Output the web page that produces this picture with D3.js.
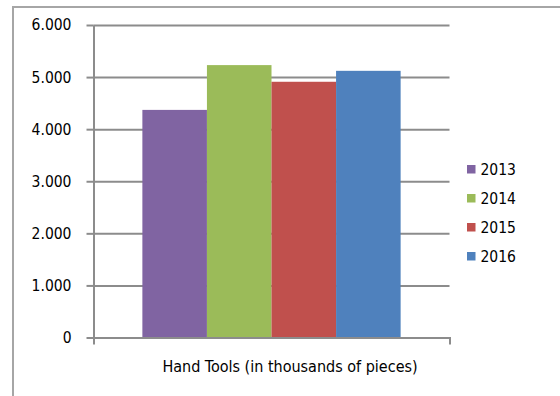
<!DOCTYPE html>
<html>
<head>
<meta charset="utf-8">
<script src="https://cdn.jsdelivr.net/npm/d3@7/dist/d3.min.js"></script>
<style>
  html, body { margin: 0; padding: 0; background: #fff; }
  svg { display: block; }
  text { font-family: "DejaVu Sans Condensed", "DejaVu Sans", Tahoma, sans-serif; fill: #000; }
</style>
</head>
<body>
<svg id="chart" width="560" height="396"></svg>
<script>
// Production of hand tools per year, in thousands of pieces
const category = ["Hand Tools (in thousands of pieces)"];
const years = ["2013", "2014", "2015", "2016"];
const values = [4370, 5230, 4910, 5120];
const colors = ["#8064A2", "#9BBB59", "#C0504D", "#4F81BD"];
const yTicks = [0, 1000, 2000, 3000, 4000, 5000, 6000];

const svg = d3.select("#chart");
const gridColor = "#8c8c8c";

// outer chart frame (runs off the right and bottom edges)
svg.append("rect")
  .attr("x", 13).attr("y", 7)
  .attr("width", 600).attr("height", 420)
  .attr("fill", "none")
  .attr("stroke", "#a6a6a6")
  .attr("stroke-width", 2);

const plot = { left: 93.5, right: 449.5, top: 25, bottom: 337.5 };

const y = d3.scaleLinear().domain([0, 6000]).range([plot.bottom, plot.top]);
const x0 = d3.scaleBand().domain(category).range([plot.left, plot.right]).padding(0);
const x1 = d3.scaleBand().domain(years).range([0, x0.bandwidth()])
  .paddingInner(0).paddingOuter(0.757);

const locale = d3.formatLocale({ decimal: ",", thousands: ".", grouping: [3], currency: ["", ""] });
const fmt = locale.format(",");

// horizontal gridlines
const grid = svg.append("g")
  .attr("transform", `translate(${plot.left},0)`)
  .call(d3.axisRight(y).tickValues(yTicks).tickSize(plot.right - plot.left).tickFormat(""));
grid.select(".domain").remove();
grid.selectAll("line").attr("stroke", gridColor).attr("stroke-width", 2);

// bars
const bars = svg.append("g").attr("transform", `translate(${x0(category[0])},0)`);
bars.selectAll("rect")
  .data(years.map((yr, i) => ({ yr, v: values[i], c: colors[i] })))
  .join("rect")
  .attr("x", d => x1(d.yr))
  .attr("y", d => y(d.v))
  .attr("width", x1.bandwidth())
  .attr("height", d => y(0) - y(d.v))
  .attr("fill", d => d.c);

// y axis
const yAxis = svg.append("g")
  .attr("transform", `translate(${plot.left},0)`)
  .call(d3.axisLeft(y).tickValues(yTicks).tickSize(7).tickSizeOuter(0).tickPadding(15).tickFormat(fmt));
yAxis.select(".domain").attr("stroke", gridColor).attr("stroke-width", 2);
yAxis.selectAll("line").attr("stroke", gridColor).attr("stroke-width", 2);
yAxis.selectAll("text").attr("font-size", 15.5).attr("fill", "#000")
  .style("font-family", '"DejaVu Sans Condensed", "DejaVu Sans", sans-serif');

// x axis
const xAxis = svg.append("g")
  .attr("transform", `translate(0,${plot.bottom})`)
  .call(d3.axisBottom(x0).tickValues([]).tickSizeOuter(7));
xAxis.select(".domain").attr("stroke", gridColor).attr("stroke-width", 2).attr("fill", "none");

// category label
svg.append("text")
  .attr("x", x0(category[0]) + x0.bandwidth() / 2 + 18.5)
  .attr("y", 372)
  .attr("text-anchor", "middle")
  .attr("font-size", 16)
  .text(category[0]);

// legend
const legend = svg.append("g").attr("transform", "translate(467,165)");
const item = legend.selectAll("g").data(years).join("g")
  .attr("transform", (d, i) => `translate(0,${i * 29})`);
item.append("rect").attr("width", 8.5).attr("height", 8.5).attr("fill", (d, i) => colors[i]);
item.append("text").attr("x", 13.5).attr("y", 4.3).attr("dy", "0.35em")
  .attr("font-size", 15.5).text(d => d);
</script>
</body>
</html>
